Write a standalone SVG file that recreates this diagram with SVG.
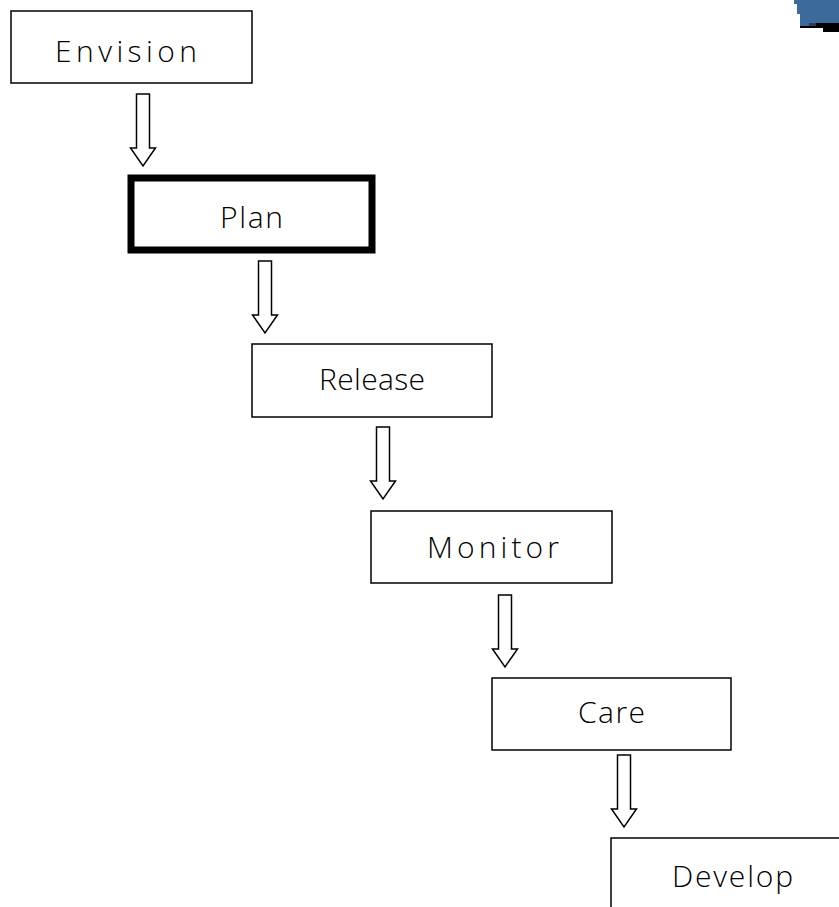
<svg xmlns="http://www.w3.org/2000/svg" xmlns:xlink="http://www.w3.org/1999/xlink" width="839" height="907" viewBox="0 0 839 907">
  <style>
    .box { fill: #ffffff; stroke: #000000; stroke-width: 1.5; }
    .box.focus { stroke-width: 7; }
    .label { font-family: "Open Sans", "Liberation Sans", sans-serif; font-size: 30px; font-weight: 300; fill: #000000; text-anchor: start; }
    .arrow { fill: #ffffff; stroke: #000000; stroke-width: 1.5; stroke-linejoin: miter; }
  </style>
  <defs>
    <!-- hollow block arrow pointing down; origin at top centre of the shaft -->
    <path id="down-arrow" class="arrow" d="M-6.5,0 H6.5 V54 H12.5 L0,72 L-12.5,54 H-6.5 Z"/>
  </defs>

  <rect width="839" height="907" fill="#ffffff"/>

  <!-- corner fragment of a logo at top right -->
  <g id="corner-logo">
    <polygon points="794,0 839,0 839,23 816,23 816,26 800,26 800,14 797,14 797,4 794,4" fill="#3b6a9b"/>
    <rect x="809" y="23" width="7" height="3" fill="#3a3560"/>
    <polygon points="816,23 839,23 839,32 823,32 823,28 800,28 800,26 816,26" fill="#000000"/>
  </g>

  <g id="connectors">
    <use xlink:href="#down-arrow" x="143" y="94"/>
    <use xlink:href="#down-arrow" x="265" y="261"/>
    <use xlink:href="#down-arrow" x="383" y="427"/>
    <use xlink:href="#down-arrow" x="505" y="595"/>
    <use xlink:href="#down-arrow" x="624" y="755"/>
  </g>

  <g id="envision">
    <rect class="box" x="11" y="11" width="241" height="72"/>
    <text class="label" x="55" y="62" textLength="142" lengthAdjust="spacing">Envision</text>
  </g>

  <g id="plan">
    <rect class="box focus" x="131" y="178" width="241" height="72"/>
    <text class="label" x="220" y="228" textLength="63" lengthAdjust="spacing">Plan</text>
  </g>

  <g id="release">
    <rect class="box" x="252" y="344" width="240" height="73"/>
    <text class="label" x="319" y="390" textLength="106" lengthAdjust="spacing">Release</text>
  </g>

  <g id="monitor">
    <rect class="box" x="371" y="511" width="241" height="72"/>
    <text class="label" x="427" y="558" textLength="132" lengthAdjust="spacing">Monitor</text>
  </g>

  <g id="care">
    <rect class="box" x="492" y="678" width="239" height="72"/>
    <text class="label" x="578" y="723" textLength="67" lengthAdjust="spacing">Care</text>
  </g>

  <g id="develop">
    <rect class="box" x="611" y="838" width="240" height="80"/>
    <text class="label" x="672" y="887" textLength="121" lengthAdjust="spacing">Develop</text>
  </g>
</svg>
